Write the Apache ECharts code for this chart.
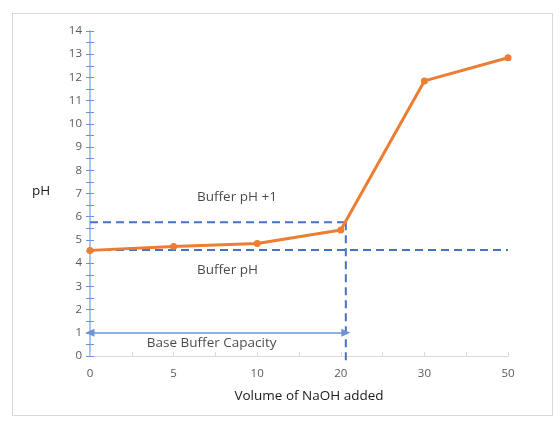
<!DOCTYPE html>
<html>
<head>
<meta charset="utf-8">
<script src="https://cdn.jsdelivr.net/npm/echarts@6/dist/echarts.min.js"></script>
<style>
    html, body { margin: 0; padding: 0; background: #fff; }
    #frame { position: absolute; left: 12px; top: 13px; width: 539px; height: 401px; border: 1px solid #d9d9d9; }
    #chart { width: 560px; height: 424px; }
</style>
</head>
<body>
<div id="frame"></div>
<div id="chart"></div>
<script>
// x 轴类别 (等间距)
const volumes = ['0', '5', '10', '20', '30', '50'];
// pH 值
const phValues = [4.55, 4.72, 4.85, 5.43, 11.85, 12.85];
// 缓冲区参考线
const bufferPh = [[0, 4.57], [5, 4.57]];
const bufferPhPlus = [[0, 5.76], [3.06, 5.76]];
const capacityLine = [[3.06, 5.76], [3.06, -0.4]];
const capacityArrow = [[0, 1], [3.06, 1]];
// 注释文字
const notes = [
    { name: 'Buffer pH +1', value: [1.28, 6.85] },
    { name: 'Buffer pH', value: [1.28, 3.7] },
    { name: 'Base Buffer Capacity', value: [0.68, 0.56] }
];
const yTicks = [0, 14];

const font = 'Open Sans';
const chart = echarts.init(document.getElementById('chart'));

const dashStyle = { color: '#4472c4', width: 2, type: [8, 5] };

chart.setOption({
    animation: false,
    textStyle: { fontFamily: font },
    grid: { left: 90, right: 52, top: 31, bottom: 68 },
    xAxis: {
        type: 'value',
        min: 0,
        max: volumes.length - 1,
        interval: 0.5,
        name: 'Volume of NaOH added',
        nameLocation: 'middle',
        nameGap: 33,
        nameTextStyle: { color: '#1a1a1a', fontSize: 13.5, fontFamily: font, padding: [0, 0, 0, 20] },
        axisLine: { lineStyle: { color: '#d9d9d9', width: 1 } },
        axisTick: { inside: true, length: 4, lineStyle: { color: '#d9d9d9' } },
        axisLabel: {
            color: '#595959',
            fontSize: 11.5,
            margin: 12,
            formatter: v => (Number.isInteger(v) ? volumes[v] : '')
        },
        splitLine: { show: false }
    },
    yAxis: [
        {
            type: 'value',
            min: yTicks[0],
            max: yTicks[1],
            interval: 1,
            axisLine: { show: true, lineStyle: { color: '#8eb0e7', width: 1.5 } },
            axisTick: { show: true, length: 4, lineStyle: { color: '#6d93d6' } },
            minorTick: { show: true, splitNumber: 2, length: 4, lineStyle: { color: '#6d93d6' } },
            axisLabel: { color: '#595959', fontSize: 11.5, margin: 8 },
            splitLine: { show: false }
        },
        {
            type: 'value',
            position: 'left',
            min: yTicks[0],
            max: yTicks[1],
            interval: 1,
            axisLine: { show: false },
            axisTick: { show: true, inside: true, length: 4, lineStyle: { color: '#6d93d6' } },
            minorTick: { show: true, splitNumber: 2, length: 4, lineStyle: { color: '#6d93d6' } },
            axisLabel: { show: false },
            splitLine: { show: false }
        }
    ],
    graphic: [{
        type: 'text',
        left: 32,
        top: 184,
        style: { text: 'pH', fill: '#1a1a1a', font: '13.5px "' + font + '"' }
    }],
    series: [
        {
            name: 'Buffer pH',
            type: 'line',
            data: bufferPh,
            symbol: 'none',
            lineStyle: dashStyle,
            z: 3
        },
        {
            name: 'Buffer pH +1',
            type: 'line',
            data: bufferPhPlus,
            symbol: 'none',
            lineStyle: dashStyle,
            z: 3
        },
        {
            name: 'Capacity',
            type: 'line',
            data: capacityLine,
            symbol: 'none',
            clip: false,
            lineStyle: dashStyle,
            z: 3
        },
        {
            name: 'Arrow',
            type: 'line',
            data: [],
            markLine: {
                silent: true,
                symbol: ['triangle', 'triangle'],
                symbolSize: [8, 9],
                label: { show: false },
                lineStyle: { color: '#6d93d6', width: 1.5, type: 'solid' },
                data: [[{ coord: capacityArrow[0] }, { coord: capacityArrow[1] }]]
            }
        },
        {
            name: 'pH',
            type: 'line',
            data: phValues.map((v, i) => [i, v]),
            symbol: 'circle',
            symbolSize: 7,
            lineStyle: { color: '#ed7d31', width: 3 },
            itemStyle: { color: '#ed7d31' },
            z: 4
        },
        {
            name: 'Notes',
            type: 'scatter',
            data: notes,
            symbolSize: 0,
            label: {
                show: true,
                position: 'right',
                distance: 0,
                formatter: '{b}',
                color: '#1a1a1a',
                fontSize: 13.5,
                fontFamily: font
            }
        }
    ]
});
</script>
</body>
</html>
